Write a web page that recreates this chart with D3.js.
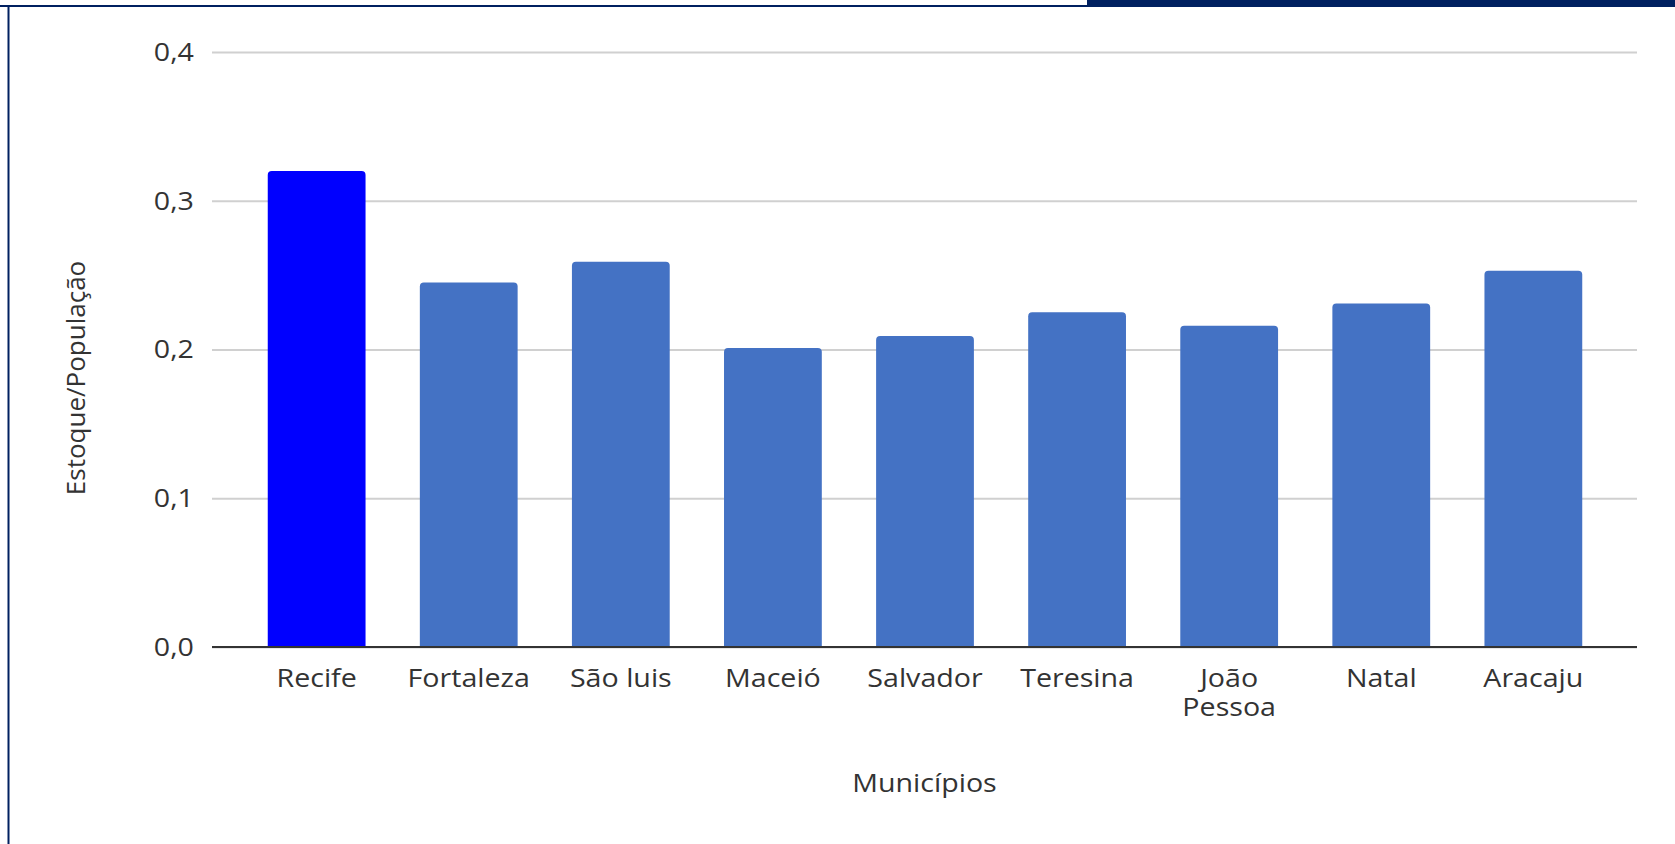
<!DOCTYPE html>
<html><head><meta charset="utf-8">
<script src="https://cdn.jsdelivr.net/npm/d3@7"></script>
<style>body{margin:0;background:#fff;} svg{display:block;font-family:"Open Sans",sans-serif;}</style>
</head><body>
<svg id="c" width="1675" height="844"></svg>
<script>
const categories = ["Recife","Fortaleza","São luis","Maceió","Salvador","Teresina","João Pessoa","Natal","Aracaju"];
const values = [0.32,0.245,0.259,0.201,0.209,0.225,0.216,0.231,0.253];
const yTicks = [0,0.1,0.2,0.3,0.4];
const highlight = "Recife";
const yTitle = "Estoque/População";
const xTitle = "Municípios";

const svg = d3.select("#c");
const navy = "#002060", textCol = "#333333", stretch = 1.1, fs = 26;

// frame decorations
svg.append("line").attr("x1",8.5).attr("x2",8.5).attr("y1",5).attr("y2",844).attr("stroke",navy).attr("stroke-width",2);
svg.append("line").attr("x1",0).attr("x2",1087).attr("y1",6).attr("y2",6).attr("stroke",navy).attr("stroke-width",2);
svg.append("rect").attr("x",1087).attr("y",0).attr("width",1675-1087).attr("height",7).attr("fill",navy);

const x = d3.scaleBand().domain(categories).range([213,1637]).paddingInner(0.357).paddingOuter(0.36);
const y = d3.scaleLinear().domain([0,0.4]).range([647,52]);
const gx0 = 212, gx1 = 1637;

// gridlines + y labels
const yAxis = d3.axisLeft(y).tickValues(yTicks).tickSize(-(gx1-gx0)).tickPadding(16.4)
  .tickFormat(d => d3.format(".1f")(d).replace(".", ","));
const gy = svg.append("g").attr("transform",`translate(${gx0},0)`).call(yAxis);
gy.select(".domain").remove();
gy.selectAll(".tick line").attr("stroke","#d0d0d0").attr("stroke-width",2);
gy.selectAll(".tick text").attr("fill",textCol).attr("font-size",fs).attr("font-family","Open Sans")
  .attr("transform",`scale(${stretch},1)`);

// bars
const r = 4;
svg.append("g").selectAll("path").data(categories).join("path")
  .attr("d",(c,i)=>{
    const x0 = x(c), w = x.bandwidth(), y0 = y(0), yt = y(values[i]);
    const p = d3.path();
    p.moveTo(x0,y0); p.lineTo(x0,yt+r); p.arcTo(x0,yt,x0+r,yt,r);
    p.lineTo(x0+w-r,yt); p.arcTo(x0+w,yt,x0+w,yt+r,r); p.lineTo(x0+w,y0); p.closePath();
    return p.toString();
  })
  .attr("fill",c => c===highlight ? "#0000FF" : "#4472C4");

// baseline
svg.append("line").attr("x1",gx0).attr("x2",gx1).attr("y1",y(0)).attr("y2",y(0)).attr("stroke","#333333").attr("stroke-width",2);

// category labels with wrapping
const lab = svg.append("g");
categories.forEach(c=>{
  const cx = x(c) + x.bandwidth()/2;
  const t = lab.append("text").attr("transform",`translate(${cx},687) scale(${stretch},1)`)
    .attr("text-anchor","middle").attr("font-size",fs).attr("fill",textCol);
  t.text(c);
  if (t.node().getComputedTextLength()*stretch > 135) {
    t.text(null);
    c.split(" ").forEach((w,k)=>t.append("tspan").attr("x",0).attr("dy",k?29:0).text(w));
  }
});

// axis titles
svg.append("text").attr("transform",`translate(85,378) rotate(-90)`).attr("text-anchor","middle")
  .attr("font-size",fs).attr("fill",textCol).text(yTitle);
svg.append("text").attr("transform",`translate(${(gx0+gx1)/2},792) scale(${stretch},1)`).attr("text-anchor","middle")
  .attr("font-size",fs).attr("fill",textCol).text(xTitle);
</script>
</body></html>
